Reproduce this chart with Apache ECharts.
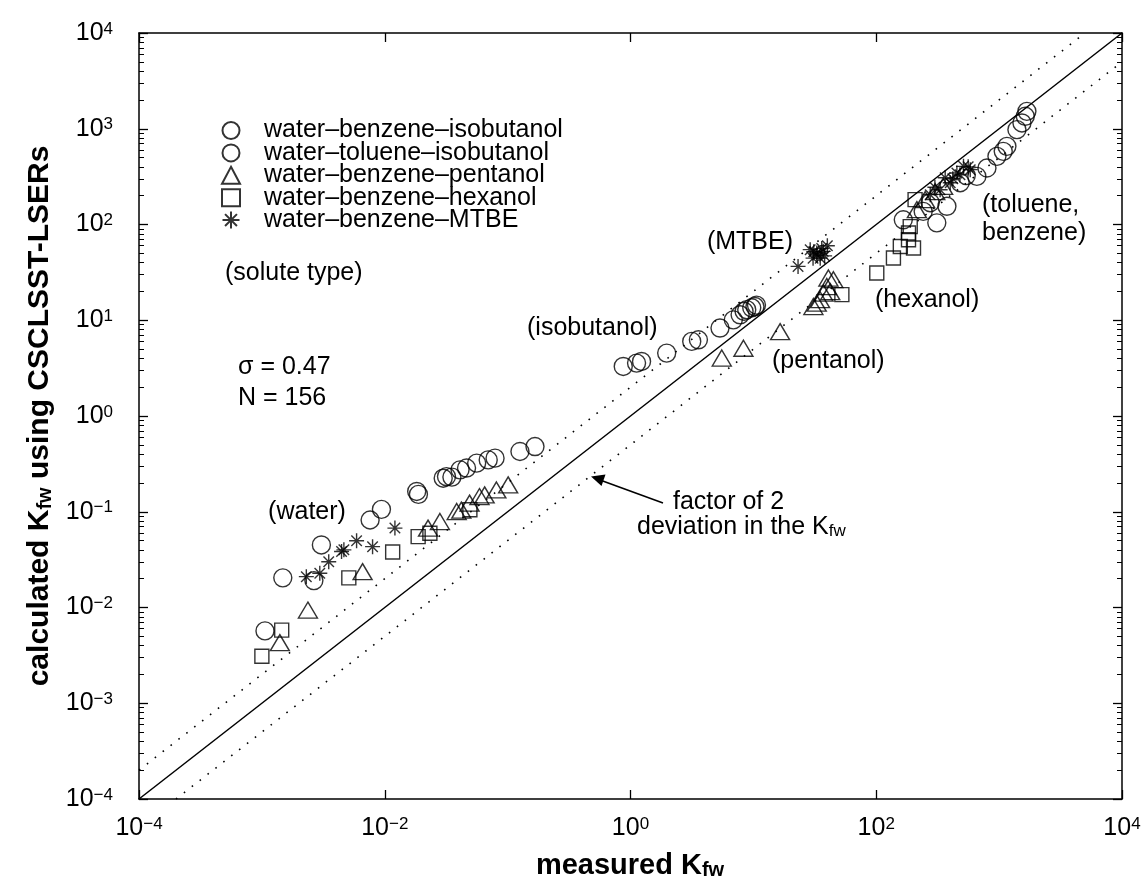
<!DOCTYPE html>
<html><head><meta charset="utf-8">
<script src="https://cdn.jsdelivr.net/npm/echarts@6/dist/echarts.min.js"></script>
<style>html,body{margin:0;padding:0;background:#fff}#c{width:1144px;height:892px}</style>
</head><body><div id="c"></div>
<script>
// ---- data (measured Kfw, calculated Kfw) ----
const benzeneIsobutanol = [[1.48e-3,0.0204],[1.06e-3,5.7e-3],[3.05e-3,0.045],[9.4e-3,0.106],[0.0182,0.163],[0.0299,0.224],[0.0352,0.230],[0.0463,0.286],[0.0695,0.348],[0.126,0.426],[0.873,3.29],[1.23,3.71],[3.15,6.01],[5.35,8.29],[7.8,11.4],[9.7,13.5],[10.6,14.4],[166,112],[376,155],[275,169],[796,389],[1080,581],[1396,979],[1633,1349],[540,324]];
const tolueneIsobutanol = [[2.65e-3,0.0191],[7.6e-3,0.082],[0.0188,0.152],[0.0318,0.233],[0.041,0.274],[0.056,0.322],[0.079,0.363],[0.167,0.48],[1.12,3.57],[1.97,4.54],[3.57,6.25],[6.87,10.1],[8.83,12.9],[10.3,13.9],[8.4,12.4],[311,104],[241,137],[659,318],[960,515],[1157,655],[1534,1150],[1683,1520],[482,273]];
const benzenePentanol = [[1.4e-3,4.3e-3],[2.37e-3,9.4e-3],[6.6e-3,0.0237],[0.0225,0.0675],[0.0281,0.079],[0.0385,0.1005],[0.042,0.104],[0.049,0.123],[0.059,0.144],[0.065,0.150],[0.081,0.169],[0.101,0.191],[5.53,4.03],[8.3,5.1],[16.5,7.6],[40.8,27.6],[44.8,26.5],[39.6,22.5],[37.2,19.2],[32.8,15.1],[30.8,13.9],[34.9,16.4],[42.2,19.9],[214,143],[250,182],[302,220],[350,250]];
const benzeneHexanol = [[1.0e-3,3.1e-3],[1.45e-3,5.8e-3],[5.1e-3,0.0204],[0.0116,0.038],[0.0187,0.055],[0.0233,0.0597],[0.0493,0.105],[52.5,18.5],[101,31.1],[138,44.7],[157,59],[201,56.8],[183,69.4],[183,81.5],[189,95],[207,182]];
const benzeneMTBE = [[2.3e-3,0.021],[2.96e-3,0.0228],[3.5e-3,0.030],[4.45e-3,0.0384],[4.65e-3,0.040],[5.9e-3,0.0497],[7.96e-3,0.0432],[0.0121,0.0675],[23.1,36.5],[29,54.6],[32.8,50.4],[37,52.4],[30.6,44.5],[35,44.5],[40,60],[33,48],[36,56],[31,52],[38,47],[275,205],[331,231],[400,273],[453,345],[513,405],[582,374],[364,308],[420,300],[480,330],[560,400],[300,245]];
const seriesNames = ['water\u2013benzene\u2013isobutanol','water\u2013toluene\u2013isobutanol','water\u2013benzene\u2013pentanol','water\u2013benzene\u2013hexanol','water\u2013benzene\u2013MTBE'];
const oneToOne = [[1e-4,1e-4],[1e4,1e4]];
const factorTwoUpper = [[1e-4,2e-4],[5e3,1e4]];
const factorTwoLower = [[2e-4,1e-4],[1e4,5e3]];
const axisMin = 1e-4, axisMax = 1e4;

const F = '"Liberation Sans", Arial, Helvetica, sans-serif';
const chart = echarts.init(document.getElementById('c'), null, {renderer:'canvas'});

function expLabel(v){
  const e = Math.round(Math.log10(v));
  return '{b|10}{s|' + (e < 0 ? '\u2212' + (-e) : e) + '}';
}
const tickRich = {
  b:{fontSize:25, fontFamily:F, color:'#000', lineHeight:25},
  s:{fontSize:17, fontFamily:F, color:'#000', lineHeight:17, verticalAlign:'top', padding:[0,0,24,0]}
};
const axisLineStyle = {color:'#000', width:1.5};
function xAx(pos, showLabel){
  return {type:'log', logBase:10, min:axisMin, max:axisMax, interval:2, position:pos,
    axisLine:{show:true, onZero:false, lineStyle:axisLineStyle},
    axisTick:{show:true, inside:true, length:9, lineStyle:{color:'#000', width:1.3}},
    minorTick:{show:false}, splitLine:{show:false}, minorSplitLine:{show:false},
    axisLabel:{show:showLabel, margin:17, formatter:expLabel, rich:tickRich}};
}
function yAx(pos, showLabel){
  return {type:'log', logBase:10, min:axisMin, max:axisMax, interval:1, position:pos,
    axisLine:{show:true, onZero:false, lineStyle:axisLineStyle},
    axisTick:{show:true, inside:true, length:9, lineStyle:{color:'#000', width:1.3}},
    minorTick:{show:true, splitNumber:9, length:5, lineStyle:{color:'#000', width:1}},
    splitLine:{show:false}, minorSplitLine:{show:false},
    axisLabel:{show:showLabel, margin:26, formatter:expLabel, rich:tickRich}};
}
const hollow = {color:'rgba(0,0,0,0)', borderColor:'#000', borderWidth:1.4};
const starPath = 'path://M5,0L5,10M0,5L10,5M1.5,1.5L8.5,8.5M1.5,8.5L8.5,1.5';
function sc(name, data, symbol, size){
  return {type:'scatter', name, data, symbol, symbolSize:size, itemStyle:hollow, z:3,
    xAxisIndex:0, yAxisIndex:0, silent:true};
}
function ln(data, dashed){
  return {type:'line', data, showSymbol:false, symbol:'none', silent:true, z:2,
    lineStyle:{color:'#000', width: dashed ? 1.6 : 1.5, type: dashed ? [1.6,8.4] : 'solid'}};
}
const txt = (x, y, text, align, extra) => ({type:'text', x, y, z:10,
  style:Object.assign({text, fontFamily:F, fontSize:25, fill:'#000', align:align||'left', verticalAlign:'middle'}, extra||{})});

chart.setOption({
  animation:false,
  backgroundColor:'#fff',
  grid:{left:139, right:22, top:33, bottom:93, containLabel:false},
  xAxis:[xAx('bottom', true), xAx('top', false)],
  yAxis:[yAx('left', true), yAx('right', false)],
  legend:{orient:'vertical', left:221, top:118, padding:0, itemWidth:18, itemHeight:17, itemGap:-2.6,
    selectedMode:false, data:seriesNames,
    textStyle:{fontFamily:F, fontSize:25, color:'#000', lineHeight:16, padding:[0,0,0,19]}},
  series:[
    ln(oneToOne,false), ln(factorTwoUpper,true), ln(factorTwoLower,true),
    sc(seriesNames[0], benzeneIsobutanol, 'circle', 18),
    sc(seriesNames[1], tolueneIsobutanol, 'circle', 18),
    sc(seriesNames[2], benzenePentanol, 'triangle', [19,16]),
    sc(seriesNames[3], benzeneHexanol, 'rect', 14),
    sc(seriesNames[4], benzeneMTBE, starPath, 15)
  ],
  graphic:[
    txt(225, 273, '(solute type)'),
    txt(238, 367, '\u03c3 = 0.47'),
    txt(238, 398, 'N = 156'),
    txt(307, 512, '(water)', 'center'),
    txt(527, 328, '(isobutanol)'),
    txt(772, 361, '(pentanol)'),
    txt(875, 300, '(hexanol)'),
    txt(982, 205, '(toluene,'),
    txt(982, 233, 'benzene)'),
    txt(793, 242, '(MTBE)', 'right'),
    txt(673, 502, 'factor of 2'),
    {type:'text', x:637, y:527, z:10, style:{text:'{t|deviation in the K}{u|fw}', fontFamily:F, fill:'#000', verticalAlign:'middle',
      rich:{t:{fontSize:25, fontFamily:F, lineHeight:25}, u:{fontSize:17, fontFamily:F, lineHeight:17, verticalAlign:'bottom', padding:[16,0,0,0]}}}},
    {type:'line', z:10, shape:{x1:663, y1:503, x2:600, y2:480}, style:{stroke:'#000', lineWidth:1.6}},
    {type:'polygon', z:10, shape:{points:[[591,476.5],[605.5,474.5],[601.5,486]]}, style:{fill:'#000'}},
    {type:'text', x:630, y:866, z:10, style:{text:'{t|measured K}{u|fw}', fill:'#000', align:'center', verticalAlign:'middle',
      rich:{t:{fontSize:29, fontWeight:'bold', fontFamily:F, lineHeight:29}, u:{fontSize:20, fontWeight:'bold', fontFamily:F, lineHeight:20, verticalAlign:'bottom', padding:[20,0,0,0]}}}},
    {type:'text', x:40, y:416, rotation:Math.PI/2, z:10, style:{text:'{t|calculated K}{u|fw}{t| using CSCLSST-LSERs}', fill:'#000', align:'center', verticalAlign:'middle',
      rich:{t:{fontSize:30, fontWeight:'bold', fontFamily:F, lineHeight:30}, u:{fontSize:20, fontWeight:'bold', fontFamily:F, lineHeight:20, verticalAlign:'bottom', padding:[20,0,0,0]}}}}
  ]
});
</script></body></html>
